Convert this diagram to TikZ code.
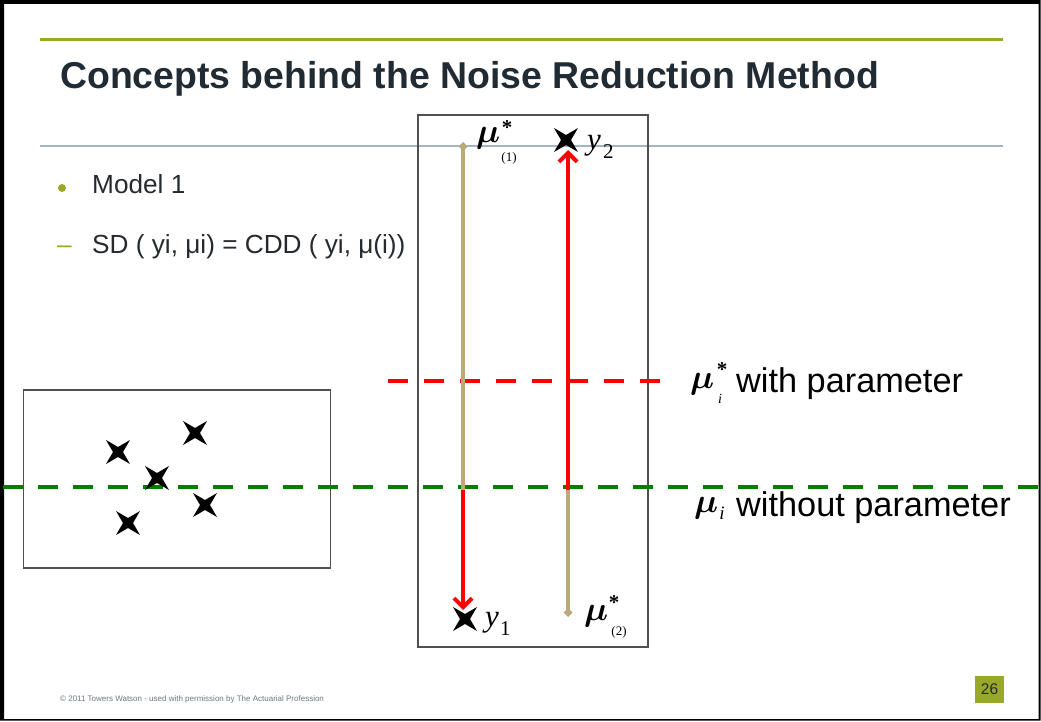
\documentclass[tikz,border=0pt]{standalone}
\usepackage{fontspec}
\setmainfont{Liberation Sans}
\newfontfamily\tmsfont{Liberation Serif}
\usetikzlibrary{arrows.meta,shapes.geometric}
\definecolor{slideolive}{RGB}{154,168,40}
\definecolor{titlecol}{RGB}{33,43,52}
\definecolor{bodycol}{RGB}{38,42,46}
\definecolor{steelline}{RGB}{165,180,196}
\definecolor{tanline}{RGB}{186,170,122}
\definecolor{boxgray}{RGB}{80,80,80}
\definecolor{greendash}{RGB}{0,128,0}
\definecolor{reddash}{RGB}{255,0,0}
\definecolor{footgray}{RGB}{110,118,126}
\newcommand{\bigmu}{\scalebox{3.4}{\boldmath$\mu$}}
\begin{document}
\begin{tikzpicture}[x=1pt,y=-1pt,
  titletxt/.style={anchor=base west, inner sep=0pt, text=titlecol, font=\fontsize{37.4}{44}\selectfont\bfseries},
  bodytxt/.style={anchor=base west, inner sep=0pt, text=bodycol, font=\fontsize{26.2}{30}\selectfont},
  lbltxt/.style={anchor=base west, inner sep=0pt, text=black, font=\fontsize{34.3}{40}\selectfont},
  mathtxt/.style={anchor=base west, inner sep=0pt, text=black, font=\fontsize{31}{36}\selectfont\tmsfont\itshape},
  mutxt/.style={anchor=base west, inner sep=0pt, text=black, font=\fontsize{10}{12}\selectfont},
  subtxt/.style={inner sep=0pt, text=black, font=\fontsize{13}{15}\selectfont\tmsfont},
  subnum/.style={anchor=base west, inner sep=0pt, text=black, font=\fontsize{21}{24}\selectfont\tmsfont},
  startxt/.style={inner sep=0pt, text=black, font=\fontsize{21}{24}\selectfont\tmsfont\bfseries},
  xstar/.style={star, star points=4, star point ratio=3.4, minimum size=34pt, inner sep=0pt, fill=black, draw=none, shape border rotate=45},
  frame/.style={draw=boxgray, line width=1.5pt},
  tanarrow/.style={draw=tanline, line width=4pt, {Diamond[length=9pt,width=9pt]}-},
  redarrow/.style={draw=reddash, line width=4pt, -{Straight Barb[length=9pt,width=18pt,line width=4pt]}},
]
\useasboundingbox (0,0) rectangle (1041,722);
% slide frame
\fill[black, even odd rule] (0,0) rectangle (1040.5,720.5) (4,4) rectangle (1038.5,719);
% header lines
\coordinate (ol) at (40,40); \coordinate (or) at (1003,40);
\draw[slideolive, line width=3pt] (ol) -- (or);
\coordinate (sl) at (40,146); \coordinate (sr) at (1003,146);
\draw[steelline, line width=1.5pt] (sl) -- (sr);
% title
\node[titletxt] (title) at (60,89) {Concepts behind the Noise Reduction Method};
% bullets
\node[circle, fill=slideolive, minimum size=8pt, inner sep=0pt] (bul) at (62,188) {};
\node[bodytxt] (model) at (92,194) {Model 1};
\node[bodytxt, text=slideolive] (dash) at (57,253) {–};
\node[bodytxt] (sd) at (92,253) {SD ( yi, μi) = CDD ( yi, μ(i))};
% boxes
\node[frame, minimum width=230pt, minimum height=532pt, inner sep=0pt] (tall) at (533,381) {};
\node[frame, minimum width=307pt, minimum height=178pt, inner sep=0pt] (left) at (177,479) {};
% dashed lines
\coordinate (rl) at (388,381); \coordinate (rr) at (660,381);
\draw[reddash, line width=4pt, dash pattern=on 20pt off 16pt] (rl) -- (rr);
\coordinate (gl) at (3,487); \coordinate (gr) at (1041,487);
\draw[greendash, line width=4.5pt, dash pattern=on 20pt off 15pt] (gl) -- (gr);
% stars in left box
\node[xstar] (s1) at (118,452) {};
\node[xstar] (s2) at (195,433) {};
\node[xstar] (s3) at (157,478) {};
\node[xstar] (s4) at (205,505) {};
\node[xstar] (s5) at (128,523) {};
% stars in tall box
\node[xstar] (y2s) at (566,140) {};
\node[xstar] (y1s) at (465,619) {};
% arrows
\coordinate (a1top) at (463,142); \coordinate (a1mid) at (463,490);
\draw[tanarrow] (a1top) -- (a1mid);
\draw[redarrow, shorten >=9pt] (a1mid) -- (a1mid |- y1s);
\coordinate (a2bot) at (568,617); \coordinate (a2mid) at (568,490);
\draw[tanarrow] (a2bot) -- (a2mid);
\draw[redarrow, shorten >=10pt] (a2mid) -- (a2mid |- y2s);
% labels in tall box
\node[mutxt] (mu1) at (476,143) {\bigmu};
\node[startxt] (mu1s) at (507,128) {*};
\node[subtxt] (mu1b) at (509,158) {(1)};
\node[mathtxt] (y2) at (587,150) {y};
\node[subnum] (y2b) at (603,159) {2};
\node[mathtxt] (y1) at (485,626) {y};
\node[subnum] (y1b) at (500,635) {1};
\node[mutxt] (mu2) at (584,620) {\bigmu};
\node[startxt] (mu2s) at (614,603) {*};
\node[subtxt] (mu2b) at (619,632) {(2)};
% right labels
\node[mutxt] (mui1) at (690,388) {\bigmu};
\node[startxt] (mui1s) at (722,370) {*};
\node[subtxt, font=\fontsize{14}{16}\selectfont\tmsfont\itshape] (mui1b) at (720,399) {i};
\node[lbltxt] (withp) at (736,392) {with parameter};
\node[mutxt] (mui2) at (694,512) {\bigmu};
\node[subtxt, font=\fontsize{19}{21}\selectfont\tmsfont\itshape] (mui2b) at (722,513) {i};
\node[lbltxt] (withoutp) at (736,516) {without parameter};
% footer
\node[anchor=base west, inner sep=0pt, text=footgray, font=\fontsize{8}{9}\selectfont] (foot) at (60,701.5) {© 2011 Towers Watson - used with permission by The Actuarial Profession};
\node[fill=slideolive, minimum width=29pt, minimum height=27pt, inner sep=0pt, text=bodycol, font=\fontsize{15.5}{18}\selectfont] (pg) at (989.5,689.5) {26};
\end{tikzpicture}
\end{document}
